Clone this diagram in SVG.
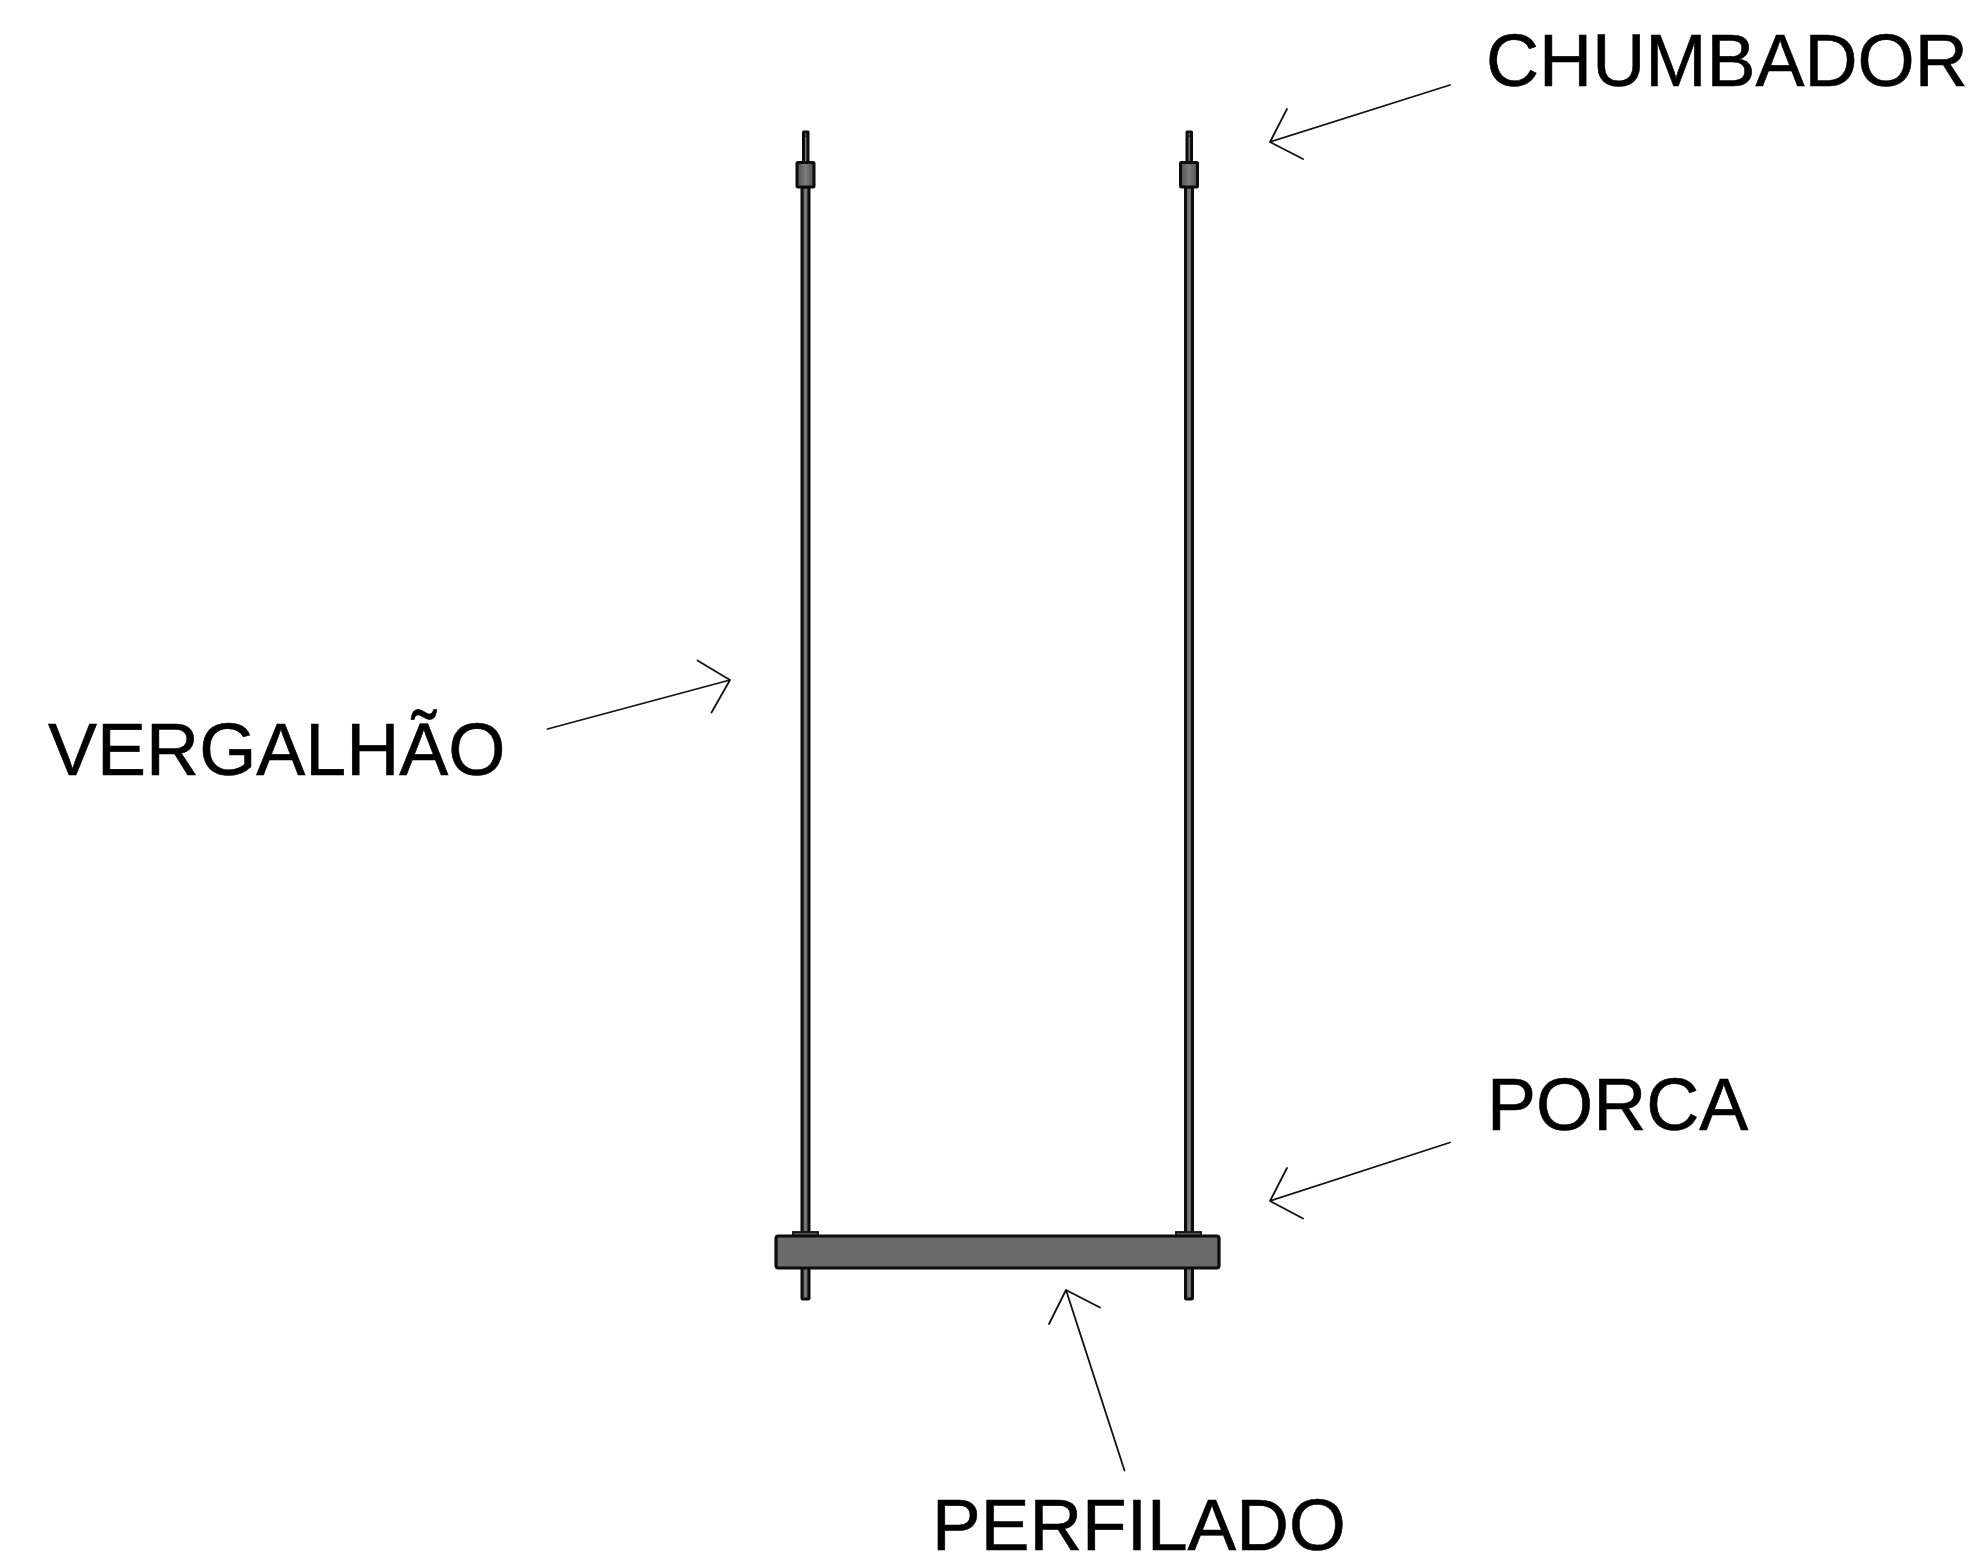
<svg xmlns="http://www.w3.org/2000/svg" width="1984" height="1564" viewBox="0 0 1984 1564">
<defs>
<linearGradient id="g" x1="0" y1="0" x2="1" y2="0"><stop offset="0" stop-color="#4f4f4f"/><stop offset="0.5" stop-color="#7c7c7c"/><stop offset="1" stop-color="#4f4f4f"/></linearGradient>
</defs>
<style>
.t{font-family:"Liberation Sans",Arial,sans-serif;font-size:73.5px;fill:#000;stroke:#000;stroke-width:0.6}
.a{fill:none;stroke:#111;stroke-width:1.8;stroke-linecap:round;stroke-linejoin:round}
.m{fill:url(#g);stroke:#0c0c0c;stroke-width:3;stroke-linejoin:round}
.p{fill:#6a6a6a;stroke:#0c0c0c;stroke-width:3.2;stroke-linejoin:round}
</style>
<rect width="1984" height="1564" fill="#fff"/>
<g id="rod-left">
<rect class="m" x="803.5" y="132" width="4.500" height="31"/>
<line x1="803.500" y1="136" x2="808" y2="136" stroke="#111" stroke-width="1.2"/>
<rect class="m" x="802" y="187" width="7" height="1112" rx="1"/>
<rect class="m" x="797" y="162.500" width="17" height="24.500" rx="1"/>
<rect x="793" y="1232" width="25" height="5" fill="#555" stroke="#111" stroke-width="1.800"/>
</g>
<g id="rod-right">
<rect class="m" x="1187" y="132" width="4.500" height="31"/>
<line x1="1187" y1="136" x2="1191.500" y2="136" stroke="#111" stroke-width="1.2"/>
<rect class="m" x="1185.500" y="187" width="7" height="1112" rx="1"/>
<rect class="m" x="1180.500" y="162.500" width="17" height="24.500" rx="1"/>
<rect x="1176" y="1232" width="25" height="5" fill="#555" stroke="#111" stroke-width="1.800"/>
</g>
<g id="perfilado"><rect class="p" x="776" y="1236" width="443" height="32" rx="2.500"/></g>
<g id="connectors">
<path class="a" d="M1450 85L1270 142M1287 109L1270 142L1303 159"/>
<path class="a" d="M547.500 729L730 680M697.500 660.500L730 680L711.500 712.500"/>
<path class="a" d="M1450 1142.500L1270 1201M1287 1168L1270 1201L1303 1218.500"/>
<path class="a" d="M1124.500 1470.500L1066 1290M1049 1324L1066 1290L1100 1307.500"/>
</g>
<g id="labels">
<text class="t" x="1486" y="86">CHUMBADOR</text>
<text class="t" x="48" y="775">VERGALHÃO</text>
<text class="t" x="1487" y="1130">PORCA</text>
<text class="t" x="932" y="1549.500" style="font-size:73px">PERFILADO</text>
</g>
</svg>
